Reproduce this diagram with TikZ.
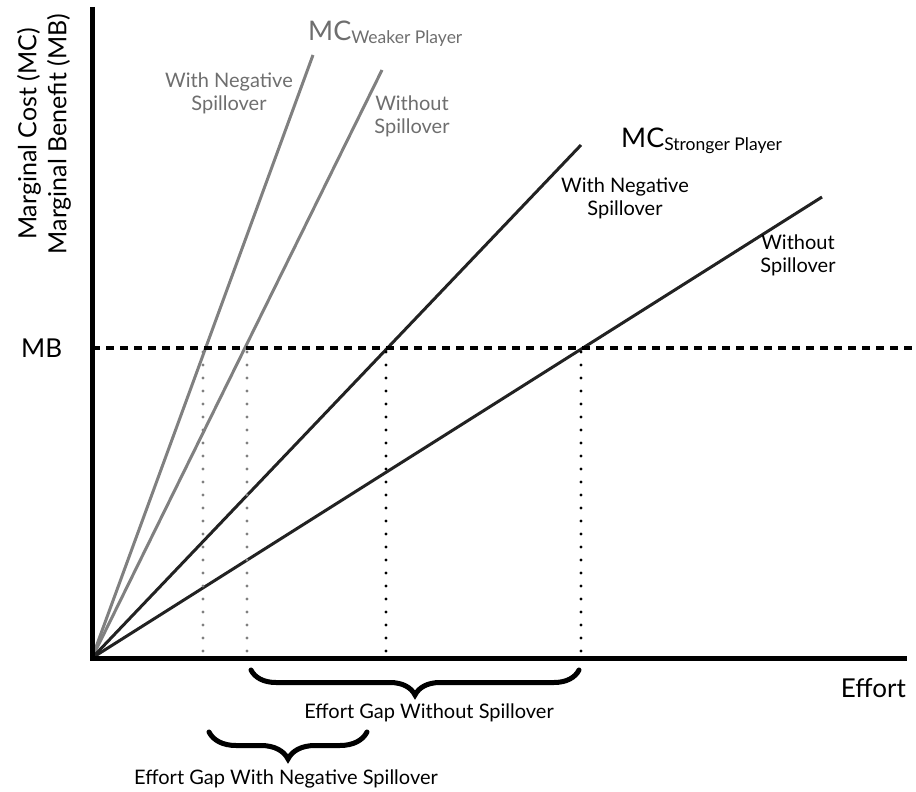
\documentclass[tikz,border=0pt]{standalone}
\usepackage{fontspec}
\setmainfont{Lato}
\usetikzlibrary{decorations.pathreplacing}
\definecolor{wgray}{HTML}{808080}
\definecolor{tgray}{HTML}{6E6E6E}
\definecolor{sblack}{HTML}{222222}
\tikzset{
  axisline/.style={line width=5pt, black},
  weakline/.style={line width=3pt, wgray},
  strongline/.style={line width=3pt, sblack},
  mbline/.style={line width=3.5pt, black, dash pattern=on 8pt off 6pt},
  gdots/.style={line width=3.4pt, wgray, line cap=round, dash pattern=on 0pt off 13pt},
  bdots/.style={line width=3.4pt, black, line cap=round, dash pattern=on 0pt off 13pt},
  gapbrace/.style={line width=5pt, black, line cap=round, decorate, decoration={brace, mirror, amplitude=#1}},
  lbl/.style={inner sep=0pt, align=center, font=\fontsize{20}{23}\selectfont},
  biglbl/.style={inner sep=0pt, font=\fontsize{26}{30}\selectfont},
}
\newcommand{\mcsub}[1]{{\fontsize{27}{30}\selectfont MC}{\fontsize{17.5}{20}\selectfont\raisebox{-3pt}{#1}}}
\begin{document}
\begin{tikzpicture}[x=1pt,y=-1pt]
\useasboundingbox (0,0) rectangle (916,792);
% key points
\coordinate (O) at (92,658);
\coordinate (ytop) at (92,7);
\coordinate (xend) at (907,658);
\coordinate (g1) at (313,55);
\coordinate (g2) at (382,70);
\coordinate (b1) at (581,145);
\coordinate (b2) at (822,197);
\coordinate (mbL) at (92,348);
\coordinate (mbR) at (916,348);
% MC lines
\draw[weakline] (O) -- (g1);
\draw[weakline] (O) -- (g2);
\draw[strongline] (O) -- (b1);
\draw[strongline] (O) -- (b2);
% MB dashed
\draw[mbline] (mbL) -- (mbR);
% dotted drops
\draw[gdots] (203,352) -- (203,656);
\draw[gdots] (247,352) -- (247,656);
\draw[bdots] (386,352) -- (386,656);
\draw[bdots] (581,352) -- (581,656);
% axes
\draw[axisline] (ytop) -- (92,660);
\draw[axisline] (90,658) -- (xend);
% labels
\node[rotate=90, align=center, inner sep=0pt, font=\fontsize{25}{30}\selectfont] (ylab) at (44,134) {Marginal Cost (MC)\\Marginal Benefit (MB)};
\node[biglbl, anchor=west] (mb) at (21,348) {MB};
\node[biglbl, anchor=east] (eff) at (906,688) {Effort};
\node[inner sep=0pt, anchor=base west, text=tgray] (mcw) at (308,41) {\mcsub{Weaker Player}};
\node[inner sep=0pt, anchor=base west, text=black] (mcs) at (621,147) {\mcsub{Stronger Player}};
\node[lbl, text=tgray] (gwn) at (229,93) {With Negative\\Spillover};
\node[lbl, text=tgray] (gwo) at (412,116) {Without\\Spillover};
\node[lbl, text=black] (bwn) at (625,198) {With Negative\\Spillover};
\node[lbl, text=black] (bwo) at (798,255) {Without\\Spillover};
% braces
\coordinate (br1a) at (251,670);
\coordinate (br1b) at (579,670);
\coordinate (br2a) at (209,732);
\coordinate (br2b) at (367,732);
\draw[gapbrace=25pt] (br1a) -- (br1b);
\draw[gapbrace=27pt] (br2a) -- (br2b);
\node[lbl] (gap1) at (429,713) {Effort Gap Without Spillover};
\node[lbl] (gap2) at (286,779) {Effort Gap With Negative Spillover};
\end{tikzpicture}
\end{document}
